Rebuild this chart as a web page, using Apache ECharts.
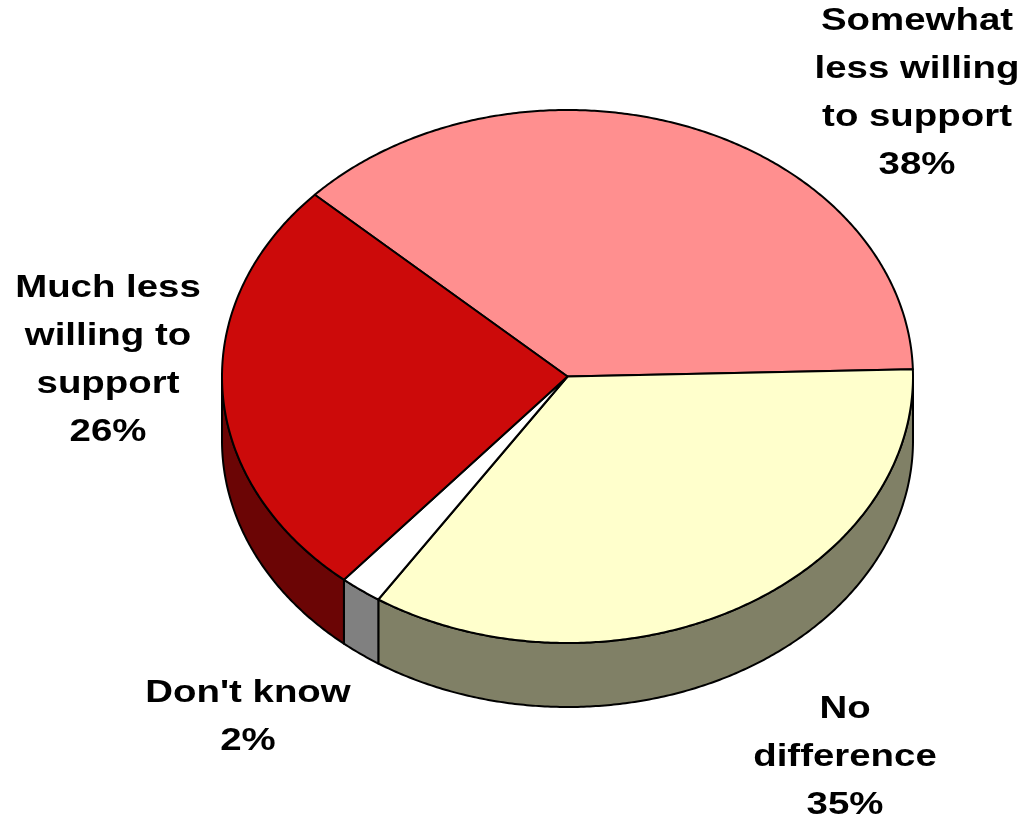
<!DOCTYPE html>
<html>
<head>
<meta charset="utf-8">
<title>Willingness to support</title>
<script src="https://cdn.jsdelivr.net/npm/echarts@6/dist/echarts.min.js"></script>
<style>
  html, body { margin: 0; padding: 0; background: #fff; }
  #chart { width: 1021px; height: 821px; }
</style>
</head>
<body>
<div id="chart"></div>
<script>
// Survey answers, in clockwise order starting from the upper-left
const categories = ['Somewhat\nless willing\nto support', 'No\ndifference', "Don't know", 'Much less\nwilling to\nsupport'];
const values = [38, 35, 2, 26];

// Face and rim colours for each slice
const topColors = ['#FF8F8F', '#FFFFCC', '#FFFFFF', '#CC0A0A'];
const sideColors = ['#7F4848', '#808066', '#808080', '#6B0505'];

// Where each label block is centred
const labelAnchors = [[917, 93], [845, 757], [248, 717], [108, 360]];

// Tilted-disc geometry
const disc = { cx: 567.5, cy: 376.5, rx: 345.5, ry: 266.5, depth: 64, startAngle: 137 };

const total = values.reduce((a, b) => a + b, 0);
const startAngles = [];
(function () {
  let acc = 0;
  values.forEach(function (v) {
    startAngles.push(disc.startAngle - acc / total * 360);
    acc += v;
  });
})();

function rimPoint(deg, dy) {
  const t = deg * Math.PI / 180;
  return [disc.cx + disc.rx * Math.cos(t), disc.cy - disc.ry * Math.sin(t) + (dy || 0)];
}

function arcPoints(from, to, dy) {
  // from > to, clockwise on screen
  const pts = [];
  const steps = Math.max(2, Math.ceil((from - to) / 0.5));
  for (let i = 0; i <= steps; i++) {
    pts.push(rimPoint(from - (from - to) * i / steps, dy));
  }
  return pts;
}

function renderItem(params, api) {
  const i = params.dataIndex;
  const v = api.value(0);
  const a1 = startAngles[i];
  const a2 = a1 - v / total * 360;
  const children = [];

  // Front rim: the part of the slice between 180° and 360° (below the centre line)
  for (let k = -1; k <= 1; k++) {
    const hi = Math.min(a1 + 360 * k, 0);
    const lo = Math.max(a2 + 360 * k, -180);
    if (hi > lo) {
      const top = arcPoints(hi, lo, 0);
      const bottom = arcPoints(hi, lo, disc.depth).reverse();
      children.push({
        type: 'polygon',
        z2: 1,
        shape: { points: top.concat(bottom) },
        style: { fill: sideColors[i], stroke: '#000', lineWidth: 2, lineJoin: 'round' }
      });
    }
  }

  // Top face of the slice
  const face = [[disc.cx, disc.cy]].concat(arcPoints(a1, a2, 0));
  children.push({
    type: 'polygon',
    z2: 5,
    shape: { points: face },
    style: { fill: topColors[i], stroke: '#000', lineWidth: 2, lineJoin: 'round' }
  });

  // Label
  children.push({
    type: 'text',
    z2: 10,
    x: labelAnchors[i][0],
    y: labelAnchors[i][1],
    scaleX: 1.2,
    style: {
      text: categories[i] + '\n' + v + '%',
      fill: '#000',
      fontFamily: '"Liberation Sans", Arial, sans-serif',
      fontWeight: 'bold',
      fontSize: 32,
      lineHeight: 48,
      align: 'center',
      verticalAlign: 'middle'
    }
  });

  return { type: 'group', children: children };
}

const chart = echarts.init(document.getElementById('chart'), null, { renderer: 'canvas' });
chart.setOption({
  backgroundColor: '#FFFFFF',
  animation: false,
  series: [{
    type: 'custom',
    coordinateSystem: 'none',
    renderItem: renderItem,
    data: values.map(function (v, i) { return { name: categories[i], value: [v] }; })
  }]
});
</script>
</body>
</html>
